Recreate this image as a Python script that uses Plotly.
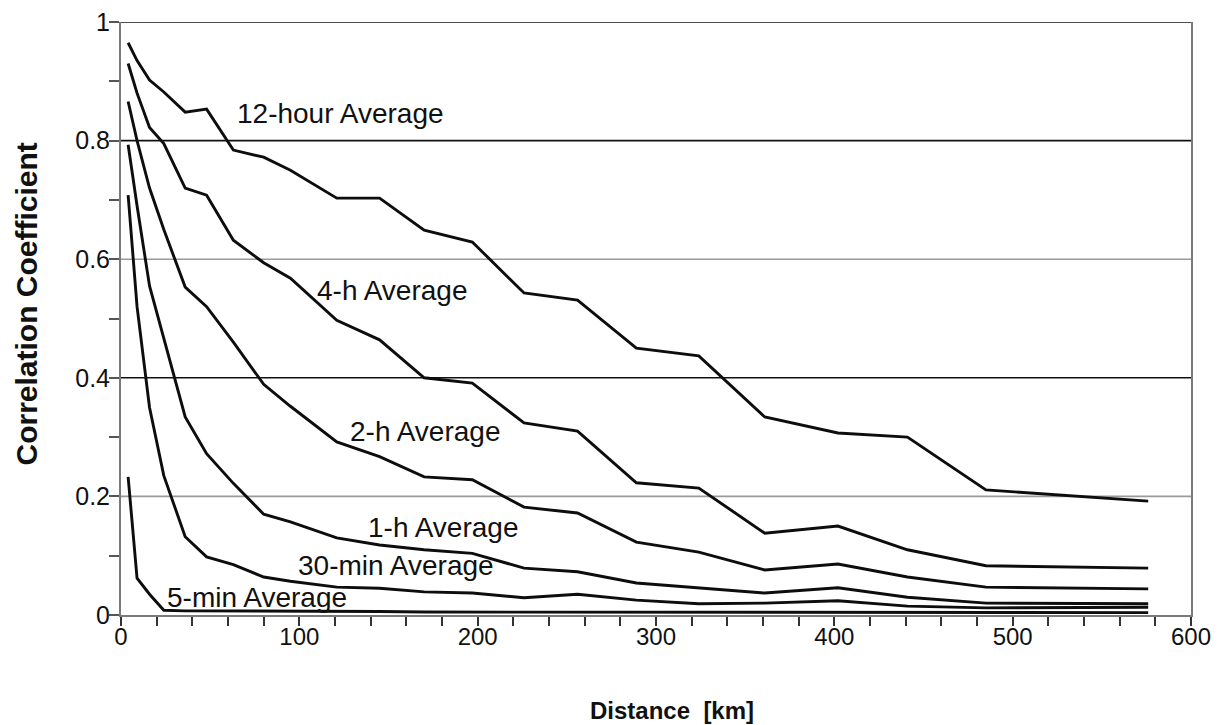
import plotly.graph_objects as go

# Distance bins (km) shared by all averaging intervals
distance_km = [4, 9, 16, 24, 36, 48, 63, 80, 95, 121, 145, 170, 197, 226, 256,
               289, 324, 361, 402, 441, 485, 576]

corr_12h = [0.965, 0.935, 0.902, 0.882, 0.848, 0.853, 0.784, 0.772, 0.750, 0.703, 0.703,
            0.649, 0.629, 0.543, 0.531, 0.450, 0.437, 0.334, 0.307, 0.300, 0.211, 0.192]
corr_4h = [0.930, 0.880, 0.822, 0.795, 0.720, 0.708, 0.632, 0.594, 0.568, 0.497, 0.464,
           0.400, 0.391, 0.324, 0.310, 0.223, 0.214, 0.138, 0.150, 0.110, 0.083, 0.079]
corr_2h = [0.866, 0.800, 0.720, 0.650, 0.553, 0.520, 0.460, 0.389, 0.352, 0.292, 0.267,
           0.233, 0.228, 0.182, 0.172, 0.123, 0.106, 0.076, 0.086, 0.064, 0.047, 0.044]
corr_1h = [0.793, 0.690, 0.555, 0.465, 0.334, 0.272, 0.222, 0.170, 0.157, 0.130, 0.118,
           0.110, 0.104, 0.079, 0.073, 0.054, 0.046, 0.037, 0.046, 0.030, 0.020, 0.019]
corr_30min = [0.708, 0.520, 0.350, 0.235, 0.132, 0.098, 0.085, 0.064, 0.057, 0.047, 0.045,
              0.039, 0.037, 0.029, 0.035, 0.025, 0.019, 0.020, 0.024, 0.015, 0.012, 0.013]
corr_5min = [0.233, 0.062, 0.035, 0.008, 0.007, 0.007, 0.007, 0.006, 0.006, 0.006, 0.006,
             0.005, 0.005, 0.005, 0.005, 0.005, 0.005, 0.005, 0.005, 0.004, 0.004, 0.004]

series = [
    ("12-hour Average", corr_12h),
    ("4-h Average", corr_4h),
    ("2-h Average", corr_2h),
    ("1-h Average", corr_1h),
    ("30-min Average", corr_30min),
    ("5-min Average", corr_5min),
]

# Curve labels: (text, x in km, y in correlation units)
curve_labels = [
    ("12-hour Average", 123, 0.845),
    ("4-h Average", 152.5, 0.548),
    ("2-h Average", 171, 0.310),
    ("1-h Average", 181, 0.148),
    ("30-min Average", 154, 0.083),
    ("5-min Average", 76.5, 0.030),
]

# Horizontal reference lines and their shades
grid_levels = [0.2, 0.4, 0.6, 0.8, 1.0]
grid_colors = ["#9a9a9a", "#111111", "#9a9a9a", "#111111", "#111111"]

FONT = "Arial, Liberation Sans, sans-serif"

fig = go.Figure()

for name, values in series:
    fig.add_trace(go.Scatter(
        x=distance_km, y=values, mode="lines", name=name,
        line=dict(color="#0d0d0d", width=2.9),
        showlegend=False, hoverinfo="skip",
    ))

for level, color in zip(grid_levels, grid_colors):
    fig.add_shape(type="line", xref="x", yref="y", x0=0, x1=600, y0=level, y1=level,
                  line=dict(color=color, width=1.6), layer="below")

for text, x, y in curve_labels:
    fig.add_annotation(x=x, y=y, xref="x", yref="y", text=text, showarrow=False,
                       font=dict(family=FONT, size=28, color="#111111"),
                       xanchor="center", yanchor="middle")

fig.add_annotation(text="<b>Distance  [km]</b>", xref="paper", yref="paper",
                   x=0.515, y=-0.161, xanchor="center", yanchor="middle",
                   showarrow=False, font=dict(family=FONT, size=24, color="#111111"))
fig.add_annotation(text="<b>Correlation Coefficient</b>", xref="paper", yref="paper",
                   x=-0.088, y=0.525, xanchor="center", yanchor="middle", textangle=-90,
                   showarrow=False, font=dict(family=FONT, size=30, color="#111111"))

fig.update_layout(
    width=1219, height=725,
    margin=dict(l=121, r=28, t=22, b=110, autoexpand=False),
    paper_bgcolor="white", plot_bgcolor="white",
    font=dict(family=FONT, size=24, color="#111111"),
)

fig.update_xaxes(
    range=[0, 600], dtick=100, tick0=0,
    showgrid=False, zeroline=False,
    showline=True, linecolor="#7a7a7a", linewidth=2,
    ticks="outside", ticklen=9, tickwidth=2, tickcolor="#333333",
    minor=dict(dtick=20, ticks="outside", ticklen=9, tickwidth=2, tickcolor="#333333"),
    tickfont=dict(size=24), ticklabelstandoff=-10,
)
fig.update_yaxes(
    range=[0, 1], dtick=0.2, tick0=0,
    showgrid=False, zeroline=False,
    showline=True, linecolor="#7a7a7a", linewidth=2, mirror=True,
    ticks="outside", ticklen=10, tickwidth=2, tickcolor="#555555",
    minor=dict(dtick=0.1, ticks="outside", ticklen=10, tickwidth=2, tickcolor="#555555"),
    tickfont=dict(size=25), ticklabelstandoff=-6,
)

fig.write_html("out.html")
